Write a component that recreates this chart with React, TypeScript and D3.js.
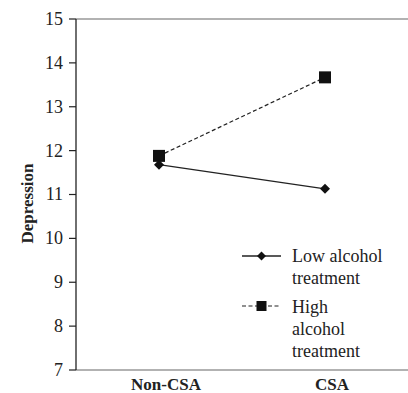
import { scaleLinear, scalePoint, line, range } from "d3"

const categories = ["Non-CSA", "CSA"]
const lowAlcohol = [11.68, 11.13]
const highAlcohol = [11.88, 13.67]
const yTicks = range(7, 16)
const legendLow = ["Low alcohol", "treatment"]
const legendHigh = ["High", "alcohol", "treatment"]

const W = 408
const H = 393
const font = "'Liberation Serif', 'Times New Roman', serif"

export default function App() {
  const left = 76
  const right = 408
  const top = 19
  const bottom = 370

  const x = scalePoint<string>().domain(categories).range([left, right]).padding(0.5)
  const y = scaleLinear().domain([7, 15]).range([bottom, top])

  const path = line<number>()
    .x((_, i) => x(categories[i]) as number)
    .y(d => y(d))

  const diamond = (cx: number, cy: number, r = 5) =>
    `M${cx},${cy - r}L${cx + r},${cy}L${cx},${cy + r}L${cx - r},${cy}Z`

  // legend layout
  const legX = 242
  const legW = 39
  const textX = 292
  const lowY = 256
  const highY = 306
  const lh = 21.8

  return (
    <svg
      width={W}
      height={H}
      style={{ position: "fixed", left: 0, top: 0, display: "block", background: "#fff", fontFamily: font }}
    >
      {/* top border and bottom axis */}
      <line x1={left} x2={right} y1={y(15)} y2={y(15)} stroke="#999" strokeWidth={1.3} />
      <line x1={left} x2={right} y1={y(7)} y2={y(7)} stroke="#999" strokeWidth={1.3} />
      <line x1={left} x2={left} y1={y(15)} y2={y(7)} stroke="#222" strokeWidth={1.3} />

      {yTicks.map(t => (
        <g key={t}>
          <line x1={left - 7} x2={left} y1={y(t)} y2={y(t)} stroke="#222" strokeWidth={1.2} />
          <text x={left - 13} y={y(t)} dy="0.33em" textAnchor="end" fontSize={18} fill="#222">
            {t}
          </text>
        </g>
      ))}

      {categories.map(c => (
        <text key={c} x={(x(c) as number) + 7} y={390} textAnchor="middle" fontSize={17} fontWeight="bold" fill="#222">
          {c}
        </text>
      ))}

      <text
        transform={`translate(33,${(y(7) + y(15)) / 2 + 9}) rotate(-90)`}
        textAnchor="middle"
        fontSize={17}
        fontWeight="bold"
        fill="#222"
      >
        Depression
      </text>

      <path d={path(highAlcohol) ?? ""} fill="none" stroke="#222" strokeWidth={1.2} strokeDasharray="4,2.5" />
      <path d={path(lowAlcohol) ?? ""} fill="none" stroke="#222" strokeWidth={1.3} />

      {highAlcohol.map((v, i) => (
        <rect key={i} x={(x(categories[i]) as number) - 6} y={y(v) - 6} width={12} height={12} fill="#111" />
      ))}
      {lowAlcohol.map((v, i) => (
        <path key={i} d={diamond(x(categories[i]) as number, y(v))} fill="#111" />
      ))}

      {/* legend */}
      <line x1={legX} x2={legX + legW} y1={lowY} y2={lowY} stroke="#222" strokeWidth={1.3} />
      <path d={diamond(legX + legW / 2, lowY, 4.5)} fill="#111" />
      {legendLow.map((s, i) => (
        <text key={s} x={textX} y={lowY + 6 + i * lh} fontSize={18} fill="#222">
          {s}
        </text>
      ))}
      <line x1={legX} x2={legX + legW} y1={highY} y2={highY} stroke="#222" strokeWidth={1.2} strokeDasharray="4,2.5" />
      <rect x={legX + legW / 2 - 5} y={highY - 5} width={10} height={10} fill="#111" />
      {legendHigh.map((s, i) => (
        <text key={s} x={textX} y={highY + 7 + i * lh} fontSize={18} fill="#222">
          {s}
        </text>
      ))}
    </svg>
  )
}
